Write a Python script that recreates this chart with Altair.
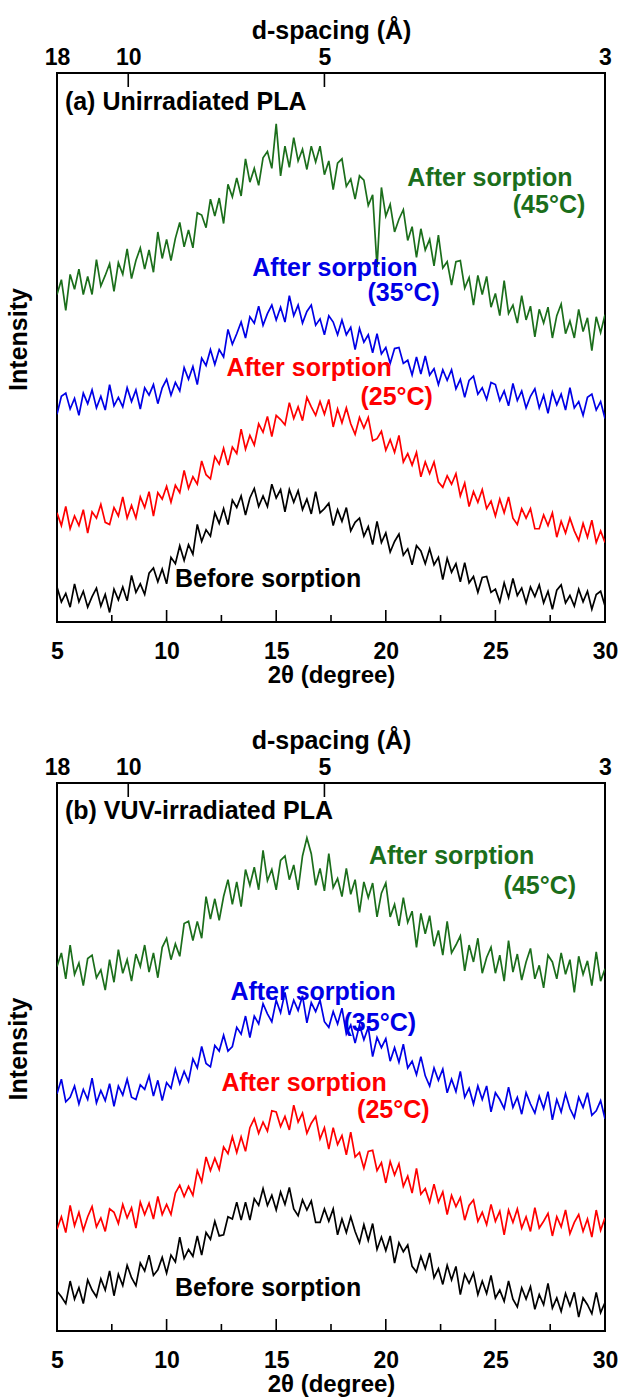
import altair as alt
import pandas as pd

FONT = "Liberation Sans"

# 2-theta sampling grid of the hand-read traces
X_START = 5.0
X_STEP = 0.2
X_DOMAIN = [5, 30]
X_MAJOR = [5, 10, 15, 20, 25, 30]
X_MINOR = [7.5, 12.5, 17.5, 22.5, 27.5]

# top (d-spacing) axis: labels and the 2-theta where they sit
D_LABELS = ["18", "10", "5", "3"]
D_POS = [5.0, 8.25, 17.2, 30.0]
D_INNER = [8.25, 17.2]

SERIES = ["Before sorption", "After sorption (25°C)", "After sorption (35°C)", "After sorption (45°C)"]
COLORS = ["#000000", "#ff0000", "#0000e6", "#1b6e1b"]
GREEN, BLUE, RED, BLACK = "#1b6e1b", "#0000e6", "#ff0000", "#000000"
Y_TITLE = "Intensity"

# ---------------- panel (a) : unirradiated PLA ----------------
A_YDOMAIN = [0, 518]
A_BEFORE = [33,19,27,14,36,19,29,14,24,32,
            15,26,9,31,21,33,20,44,28,36,
            26,46,51,38,50,36,61,55,72,58,
            73,64,92,76,87,81,103,93,107,92,
            115,108,119,101,117,126,109,119,109,130,
            117,125,104,125,113,124,106,116,102,123,
            103,107,112,91,106,95,108,86,94,98,
            81,90,73,95,75,84,66,76,83,63,
            69,54,72,67,55,69,54,61,40,60,
            47,55,38,56,37,43,28,42,43,28,
            31,19,37,23,41,25,32,18,33,24,
            35,18,29,12,30,35,18,25,15,31,
            19,29,12,26,29,15]
A_25 = [103,91,109,88,100,91,106,84,104,98,
        111,94,92,108,100,118,98,110,98,118,
        108,123,100,122,116,128,113,129,122,143,
        126,137,130,152,139,135,156,149,164,148,
        165,159,182,163,176,167,187,179,194,175,
        195,191,186,207,192,203,190,212,203,195,
        208,196,210,184,201,188,202,187,177,193,
        183,193,171,173,180,162,172,160,176,151,
        159,148,160,137,151,140,151,132,127,138,
        130,140,119,131,109,123,113,125,107,114,
        100,116,103,118,98,92,107,98,107,88,
        88,101,91,103,80,95,84,98,86,77,
        93,80,96,75,86,75]
A_35 = [196,213,216,201,211,195,216,206,219,202,
        213,200,224,204,212,203,221,208,219,201,
        221,214,224,206,221,229,214,226,218,240,
        229,241,224,249,242,257,243,257,250,276,
        262,272,283,268,288,282,298,280,291,299,
        285,297,283,308,289,299,282,293,299,280,
        286,271,289,283,271,285,271,278,257,277,
        264,271,254,272,253,259,244,258,259,244,
        247,233,250,234,251,233,239,224,238,228,
        238,220,229,212,228,232,215,221,210,226,
        224,209,218,204,225,209,218,202,213,220,
        202,214,197,217,205,215,200,221,202,208,
        195,212,215,200,208,192]
A_45 = [309,323,294,328,314,333,309,326,309,342,
        317,327,338,312,339,328,352,324,341,353,
        333,351,330,368,343,361,341,362,377,354,
        370,353,386,384,372,399,383,400,376,413,
        401,419,402,437,415,428,412,438,444,428,
        470,421,449,429,457,435,446,427,449,434,
        449,422,435,408,433,437,411,418,399,421,
        417,393,403,335,410,383,394,368,380,389,
        360,373,344,371,351,361,336,365,334,340,
        318,340,341,315,325,299,327,309,326,297,
        310,289,322,291,299,282,308,285,298,269,
        295,282,297,268,289,300,272,284,268,295,
        274,287,256,288,273,290]

A_TITLE = {"text": ["(a) Unirradiated PLA"], "x": [5.36], "y": [491], "color": [BLACK]}
A_CENTER = {"text": ["After sorption", "After sorption", "After sorption", "Before sorption"],
            "x": [24.75, 17.68, 16.5, 14.63], "y": [419, 334, 240, 41],
            "color": [GREEN, BLUE, RED, BLACK]}
A_RIGHT = {"text": ["(45°C)", "(35°C)", "(25°C)"],
           "x": [29.1, 22.47, 22.15], "y": [393, 310, 212],
           "color": [GREEN, BLUE, RED]}

# ---------------- panel (b) : VUV-irradiated PLA ----------------
B_YDOMAIN = [17.7, 503.7]
B_BEFORE = [53,48,42,62,46,56,42,63,54,48,
            64,54,71,49,68,58,76,65,58,78,
            71,85,67,72,83,69,85,79,101,82,
            90,84,102,85,105,99,115,102,103,119,
            117,132,116,132,116,135,129,144,129,138,
            125,141,130,145,126,120,134,125,133,114,
            114,126,115,126,103,117,105,119,106,96,
            112,98,113,90,101,89,102,78,96,88,
            94,75,70,84,73,87,65,73,59,76,
            63,75,50,68,60,69,50,62,51,67,
            47,54,44,62,46,39,56,46,57,37,
            50,41,60,38,47,35,51,40,52,30,
            47,41,33,52,34,43]
B_25 = [108,119,105,129,111,123,107,119,128,110,
        118,106,126,123,113,130,118,127,109,132,
        121,131,117,137,121,130,121,140,147,137,
        146,138,160,150,172,160,171,161,181,175,
        190,176,190,177,198,206,193,203,195,213,
        212,199,208,196,218,203,211,193,202,208,
        188,198,179,198,183,191,174,194,172,176,
        162,177,178,160,167,149,168,156,166,146,
        155,140,162,139,144,132,148,132,141,121,
        138,128,136,116,129,134,115,123,112,130,
        115,124,103,125,114,126,109,119,106,127,
        109,115,122,102,119,110,125,104,114,121,
        106,117,101,125,107,118]
B_35 = [228,241,221,225,235,219,232,223,242,220,
        231,222,237,217,235,227,241,225,223,236,
        232,244,226,240,222,238,233,250,237,248,
        239,259,251,270,255,252,271,266,280,266,
        270,287,281,297,278,297,290,308,299,292,
        311,300,318,298,311,302,315,291,309,301,
        311,292,287,301,290,304,281,289,273,289,
        276,287,261,278,269,277,257,269,256,272,
        251,257,245,261,244,235,251,240,250,229,
        241,230,248,225,233,219,235,223,235,212,
        229,223,215,234,216,225,210,229,219,211,
        226,215,230,205,223,212,228,215,207,225,
        216,229,209,213,222,206]
B_45 = [341,353,330,360,334,344,324,348,351,331,
        338,320,347,327,356,335,347,328,352,341,
        360,336,353,331,358,366,347,361,350,379,
        381,364,381,366,403,383,401,382,403,418,
        396,416,394,427,413,429,409,444,417,427,
        409,435,439,418,431,409,439,455,441,413,
        428,408,441,411,419,403,428,405,418,389,
        416,402,415,385,406,415,385,396,377,402,
        380,390,358,388,370,386,359,373,351,381,
        353,360,368,337,360,345,366,335,349,358,
        335,351,328,364,336,352,329,345,357,330,
        342,322,351,345,330,353,334,347,318,350,
        334,346,324,354,328,339]

B_TITLE = {"text": ["(b) VUV-irradiated PLA"], "x": [5.36], "y": [479], "color": [BLACK]}
B_CENTER = {"text": ["After sorption", "After sorption", "After sorption", "Before sorption"],
            "x": [23.0, 16.68, 16.27, 14.63], "y": [439, 318, 238, 56],
            "color": [GREEN, BLUE, RED, BLACK]}
B_RIGHT = {"text": ["(45°C)", "(35°C)", "(25°C)"],
           "x": [28.68, 21.38, 22.0], "y": [412, 291, 214],
           "color": [GREEN, BLUE, RED]}

PLOT_W = 548
A_H = 549
B_H = 548
TICK_FS = 23
TITLE_FS = 25
NOTE_FS = 25


def d_label_expr():
    parts = []
    for pos, lab in zip(D_POS, D_LABELS):
        parts.append(f"abs(datum.value - {pos}) < 0.01 ? '{lab}'")
    return " : ".join(parts) + " : ''"


def build_panel(series_values, ydomain, title, centers, rights, height):
    rows = []
    for name, vals in zip(SERIES, series_values):
        for i, v in enumerate(vals):
            rows.append({"tt": X_START + X_STEP * i, "I": v, "series": name})
    df = pd.DataFrame(rows)
    xs = alt.Scale(domain=X_DOMAIN, nice=False, zero=False)
    ys = alt.Scale(domain=ydomain, nice=False, zero=False)

    lines = alt.Chart(df).mark_line(strokeWidth=1.7, clip=True).encode(
        x=alt.X("tt:Q", scale=xs, axis=alt.Axis(
            orient="bottom", values=X_MAJOR, format="d", ticks=False, domain=False, grid=False,
            labelFlush=False, labelFont=FONT, labelFontSize=TICK_FS, labelFontWeight="bold",
            labelColor="black", labelPadding=18, title="2θ (degree)", titleFont=FONT,
            titleFontSize=24, titleFontWeight="bold", titleColor="black", titlePadding=0)),
        y=alt.Y("I:Q", scale=ys, axis=None),
        color=alt.Color("series:N", scale=alt.Scale(domain=SERIES, range=COLORS), legend=None),
    )

    ytitle = alt.Chart(pd.DataFrame({"t": [Y_TITLE]})).mark_text(
        angle=270, align="center", baseline="alphabetic", font=FONT, fontSize=25,
        fontWeight="bold", color="black").encode(
        text="t:N", x=alt.value(-30), y=alt.value(height / 2 - 8))

    major = alt.Chart(pd.DataFrame({"pos": X_MAJOR})).mark_rule(color="black", strokeWidth=1.6).encode(
        x=alt.X("pos:Q", scale=xs, axis=None), y=alt.value(height), y2=alt.value(height - 12))
    minor = alt.Chart(pd.DataFrame({"pos": X_MINOR})).mark_rule(color="black", strokeWidth=1.6).encode(
        x=alt.X("pos:Q", scale=xs, axis=None), y=alt.value(height), y2=alt.value(height - 7))
    top = alt.Chart(pd.DataFrame({"pos": D_INNER})).mark_rule(color="black", strokeWidth=1.6).encode(
        x=alt.X("pos:Q", scale=xs, axis=alt.Axis(
            orient="top", values=D_POS, labelExpr=d_label_expr(), ticks=False, domain=False,
            grid=False, labelFlush=False, labelFont=FONT, labelFontSize=TICK_FS,
            labelFontWeight="bold", labelColor="black", labelPadding=4, title="d-spacing (Å)",
            titleFont=FONT, titleFontSize=TITLE_FS, titleFontWeight="bold", titleColor="black",
            titlePadding=3)),
        y=alt.value(0), y2=alt.value(14))

    def text_layer(d, align):
        return alt.Chart(pd.DataFrame(d)).mark_text(
            align=align, baseline="middle", font=FONT, fontSize=NOTE_FS, fontWeight="bold").encode(
            x=alt.X("x:Q", scale=xs, axis=None),
            y=alt.Y("y:Q", scale=ys, axis=None),
            text="text:N",
            color=alt.Color("color:N", scale=None))

    return alt.layer(
        lines, major, minor, top, ytitle,
        text_layer(title, "left"), text_layer(centers, "center"), text_layer(rights, "right"),
    ).resolve_axis(x="independent").properties(width=PLOT_W, height=height)


panel_a = build_panel([A_BEFORE, A_25, A_35, A_45], A_YDOMAIN, A_TITLE, A_CENTER, A_RIGHT, A_H)
panel_b = build_panel([B_BEFORE, B_25, B_35, B_45], B_YDOMAIN, B_TITLE, B_CENTER, B_RIGHT, B_H)

chart = alt.vconcat(panel_a, panel_b, spacing=39).properties(
    padding={"left": 6, "top": 17, "right": 0, "bottom": 0}, background="white"
).configure_view(stroke="black", strokeWidth=2)

chart.save("out.html", embed_options={"renderer": "svg", "actions": False})
